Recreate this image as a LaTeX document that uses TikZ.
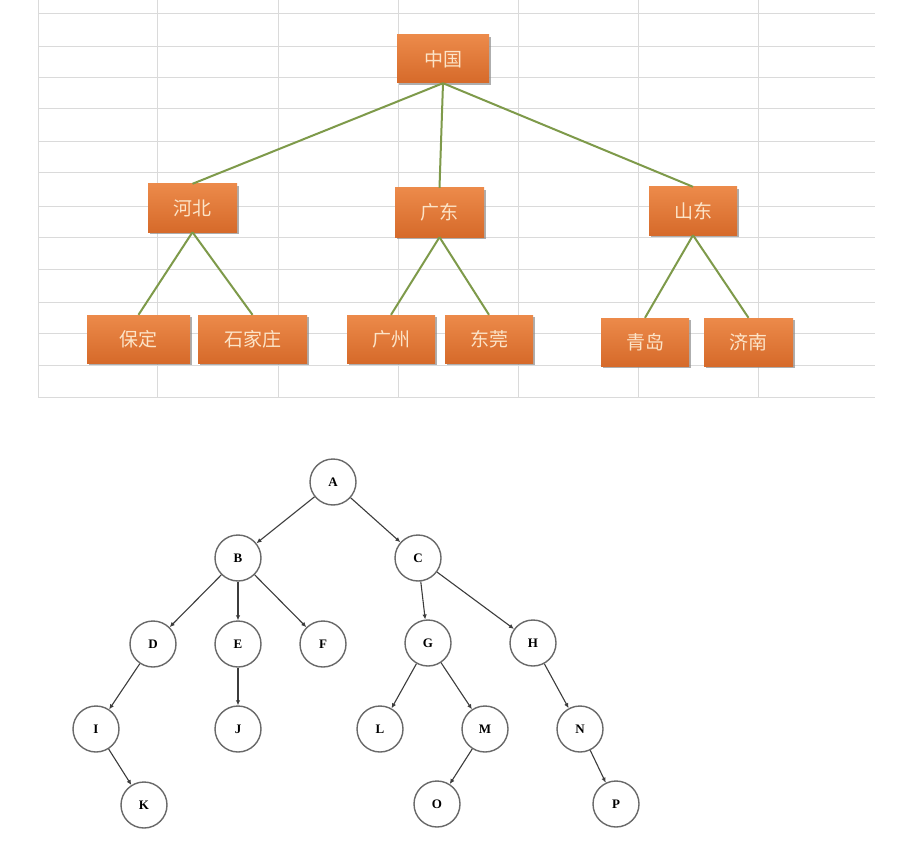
\documentclass[tikz,border=0pt]{standalone}
\usepackage{fontspec}
\setmainfont{Liberation Serif}
\newfontfamily\cjk{Noto Sans CJK SC}
\usetikzlibrary{arrows.meta,shadows}
\definecolor{gridgray}{RGB}{218,218,218}
\definecolor{boxtop}{RGB}{236,138,74}
\definecolor{boxbot}{RGB}{214,106,42}
\definecolor{boxtext}{RGB}{252,228,200}
\definecolor{linkgreen}{RGB}{126,154,74}
\definecolor{treeline}{RGB}{60,60,60}
\definecolor{circline}{RGB}{105,105,105}
\tikzset{
  obox/.style={rectangle, inner sep=0pt, minimum height=48pt, minimum width=88pt,
    top color=boxtop, bottom color=boxbot,
    text=boxtext, font=\cjk\fontsize{19}{19}\selectfont,
    drop shadow={shadow xshift=1.5pt, shadow yshift=-2pt, fill=black!45, opacity=0.7}},
  glink/.style={draw=linkgreen, line width=2pt},
  tnode/.style={circle, draw=circline, line width=1.4pt, minimum size=46pt, inner sep=0pt,
    fill=white, font=\bfseries\fontsize{13}{13}\selectfont},
  tedge/.style={draw=treeline, line width=1.1pt, -{Latex[length=5pt,width=4.5pt]}}
}
\begin{document}
\begin{tikzpicture}[x=1pt,y=-1pt]
\useasboundingbox (0,0) rectangle (908,848);
\fill[white] (0,0) rectangle (908,848);
% spreadsheet grid
\foreach \yy in {14,47,78,109,142,173,206,237,269,302,333,365,397}
  \draw[gridgray, line width=1pt] (38,\yy) -- (875,\yy);
\foreach \xx in {38,157,278,398,518,638,758}
  \draw[gridgray, line width=1pt] (\xx,0) -- (\xx,397);
% org chart boxes
\node[obox, minimum width=92pt] (cn) at (443,59) {中国};
\node[obox, minimum width=89pt] (hb) at (192.5,208) {河北};
\node[obox, minimum width=89pt, minimum height=49pt] (gd) at (439.5,212.5) {广东};
\node[obox] (sd) at (693,211) {山东};
\node[obox, minimum width=103pt] (bd) at (138.5,339) {保定};
\node[obox, minimum width=109pt] (sjz) at (252.5,339) {石家庄};
\node[obox] (gz) at (391,339) {广州};
\node[obox] (dg) at (489,339) {东莞};
\node[obox] (qd) at (645,342) {青岛};
\node[obox, minimum width=89pt] (jn) at (748.5,342) {济南};
% green links
\draw[glink] (cn.south) -- (hb.north);
\draw[glink] (cn.south) -- (gd.north);
\draw[glink] (cn.south) -- (sd.north);
\draw[glink] (hb.south) -- (bd.north);
\draw[glink] (hb.south) -- (sjz.north);
\draw[glink] (gd.south) -- (gz.north);
\draw[glink] (gd.south) -- (dg.north);
\draw[glink] (sd.south) -- (qd.north);
\draw[glink] (sd.south) -- (jn.north);
% tree
\node[tnode] (A) at (333,482) {A};
\node[tnode] (B) at (238,558) {B};
\node[tnode] (C) at (418,558) {C};
\node[tnode] (D) at (153,644) {D};
\node[tnode] (E) at (238,644) {E};
\node[tnode] (F) at (323,644) {F};
\node[tnode] (G) at (428,643) {G};
\node[tnode] (H) at (533,643) {H};
\node[tnode] (I) at (96,729) {I};
\node[tnode] (J) at (238,729) {J};
\node[tnode] (L) at (380,729) {L};
\node[tnode] (M) at (485,729) {M};
\node[tnode] (N) at (580,729) {N};
\node[tnode] (K) at (144,805) {K};
\node[tnode] (O) at (437,804) {O};
\node[tnode] (P) at (616,804) {P};
\foreach \p/\c in {A/B,A/C,B/D,B/E,B/F,C/G,C/H,D/I,I/K,E/J,G/L,G/M,M/O,H/N,N/P}
  \draw[tedge] (\p) -- (\c);
\end{tikzpicture}
\end{document}
